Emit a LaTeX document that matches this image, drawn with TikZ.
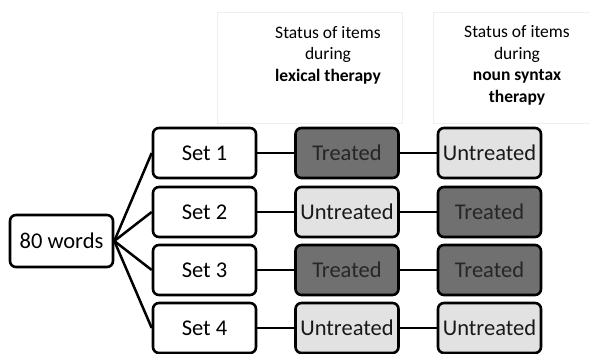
\documentclass[tikz,border=0pt]{standalone}
\usepackage{fontspec}
\setmainfont{Carlito}
\definecolor{darkfill}{HTML}{707070}
\definecolor{lightfill}{HTML}{E2E2E2}
\definecolor{hdrline}{HTML}{EFEFEF}
\begin{document}
\begin{tikzpicture}[x=1pt,y=-1pt,
  box/.style={draw=black,line width=2.6pt,rounded corners=6pt,minimum width=103pt,minimum height=50pt,inner sep=0pt,font=\fontsize{22.5}{24}\selectfont},
  treated/.style={box,fill=darkfill,text=black!85},
  untreated/.style={box,fill=lightfill,text=black!90},
  conn/.style={line width=2.5pt},
  hdr/.style={align=center,font=\fontsize{17.5}{21.5}\selectfont}]
\useasboundingbox (0,0) rectangle (590,354);
% header boxes
\draw[hdrline,line width=1pt] (217,12) rectangle (402,123);
\draw[hdrline,line width=1pt] (433,12) rectangle (590,123);
\node[hdr] (h1) at (328,55) {Status of items\\during\\\textbf{lexical therapy}};
\node[hdr] (h2) at (517,65.5) {Status of items\\during\\\textbf{noun syntax}\\\textbf{therapy}};
% nodes
\node[box,minimum width=103pt,minimum height=52pt] (w) at (61.5,241) {80 words};
\node[box] (s1) at (204.5,153) {Set 1};
\node[box] (s2) at (204.5,212) {Set 2};
\node[box] (s3) at (204.5,270) {Set 3};
\node[box] (s4) at (204.5,328) {Set 4};
\node[treated] (a1) at (347,153) {Treated};
\node[untreated] (a2) at (347,212) {Untreated};
\node[treated] (a3) at (347,270) {Treated};
\node[untreated] (a4) at (347,328) {Untreated};
\node[untreated] (b1) at (489.5,153) {Untreated};
\node[treated] (b2) at (489.5,212) {Treated};
\node[treated] (b3) at (489.5,270) {Treated};
\node[untreated] (b4) at (489.5,328) {Untreated};
% connectors
\foreach \i in {1,2,3,4}{
  \draw[conn] (w.east) -- (s\i.west);
  \draw[conn] (s\i.east) -- (a\i.west);
  \draw[conn] (a\i.east) -- (b\i.west);
}
\end{tikzpicture}
\end{document}
